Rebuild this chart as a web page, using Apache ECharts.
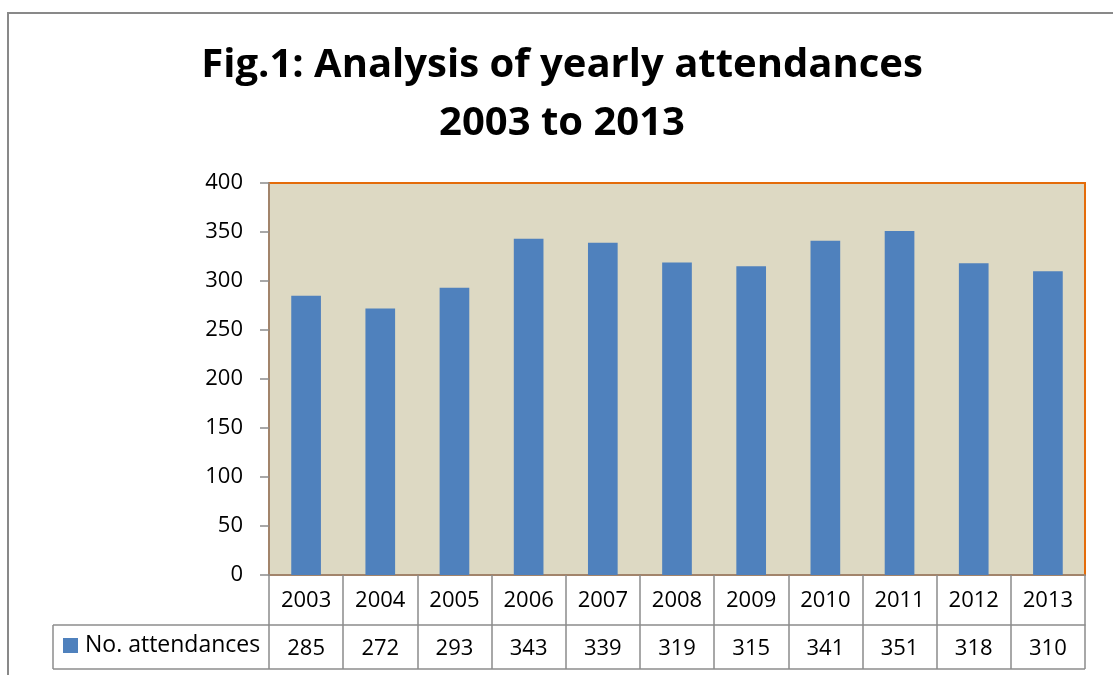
<!DOCTYPE html>
<html>
<head>
<meta charset="utf-8">
<script src="https://cdn.jsdelivr.net/npm/echarts@6/dist/echarts.min.js"></script>
<style>html,body{margin:0;padding:0;background:#fff;}#c{width:1113px;height:675px;}</style>
</head>
<body>
<div id="c"></div>
<script>
const years = ['2003','2004','2005','2006','2007','2008','2009','2010','2011','2012','2013'];
const attendances = [285, 272, 293, 343, 339, 319, 315, 341, 351, 318, 310];
const seriesName = 'No. attendances';
const yTicks = [0, 50, 100, 150, 200, 250, 300, 350, 400];

const FONT = 'Open Sans';
const GRID = {left: 269, right: 28, top: 183, bottom: 100};
const W = 1113, H = 675;
const plotRight = W - GRID.right;
const axisY = H - GRID.bottom;
const row1 = 50, row2 = 44;
const legendLeft = 53;
const lineColor = '#8c8c8c';

const chart = echarts.init(document.getElementById('c'), null, {renderer: 'canvas'});
chart.setOption({
  animation: false,
  backgroundColor: '#ffffff',
  title: {
    text: 'Fig.1: Analysis of yearly attendances\n2003 to 2013',
    left: 562,
    textAlign: 'center',
    top: 37,
    padding: 0,
    textStyle: {fontFamily: FONT, fontWeight: 'bold', fontSize: 40, lineHeight: 58, color: '#000'}
  },
  legend: {
    data: [seriesName],
    left: 63, top: 634,
    padding: 0,
    itemWidth: 15, itemHeight: 15, itemGap: 10,
    icon: 'rect',
    textStyle: {fontFamily: FONT, fontSize: 23, color: '#000', padding: [0,0,0,2]}
  },
  grid: {
    left: GRID.left, right: GRID.right, top: GRID.top, bottom: GRID.bottom,
    show: true, backgroundColor: '#DDD9C3', borderColor: '#E46C0A', borderWidth: 2
  },
  xAxis: [{
    type: 'category', data: years, position: 'bottom',
    axisLine: {show: true, lineStyle: {color: lineColor, width: 1.5}},
    axisTick: {show: true, alignWithLabel: false, length: row1, lineStyle: {color: lineColor, width: 1.5}},
    axisLabel: {fontFamily: FONT, fontSize: 22, color: '#000', margin: 15},
    splitLine: {show: false}
  }, {
    type: 'category', data: attendances.map(String), position: 'bottom', offset: row1,
    axisLine: {show: true, lineStyle: {color: lineColor, width: 1.5}},
    axisTick: {show: true, length: row2, lineStyle: {color: lineColor, width: 1.5}},
    axisLabel: {fontFamily: FONT, fontSize: 22, color: '#000', margin: 13},
    splitLine: {show: false}
  }],
  yAxis: {
    type: 'value', min: yTicks[0], max: yTicks[yTicks.length-1], interval: 50,
    axisLine: {show: true, lineStyle: {color: lineColor, width: 1.5}},
    axisTick: {show: true, length: 9, lineStyle: {color: lineColor, width: 1.5}},
    axisLabel: {fontFamily: FONT, fontSize: 22, color: '#000', margin: 26},
    splitLine: {show: false}
  },
  series: [{
    name: seriesName, type: 'bar', xAxisIndex: 0, data: attendances,
    barWidth: '40%', itemStyle: {color: '#4F81BD'}
  }],
  graphic: [
    {type: 'rect', silent: true, shape: {x: 8, y: 13, width: 1300, height: 900},
     style: {fill: 'none', stroke: '#898989', lineWidth: 2}},
    {type: 'line', silent: true, shape: {x1: legendLeft, y1: axisY + row1, x2: GRID.left, y2: axisY + row1},
     style: {stroke: lineColor, lineWidth: 1.5}},
    {type: 'line', silent: true, shape: {x1: legendLeft, y1: axisY + row1 + row2, x2: plotRight, y2: axisY + row1 + row2},
     style: {stroke: lineColor, lineWidth: 1.5}},
    {type: 'line', silent: true, shape: {x1: legendLeft, y1: axisY + row1, x2: legendLeft, y2: axisY + row1 + row2},
     style: {stroke: lineColor, lineWidth: 1.5}}
  ]
});
</script>
</body>
</html>
